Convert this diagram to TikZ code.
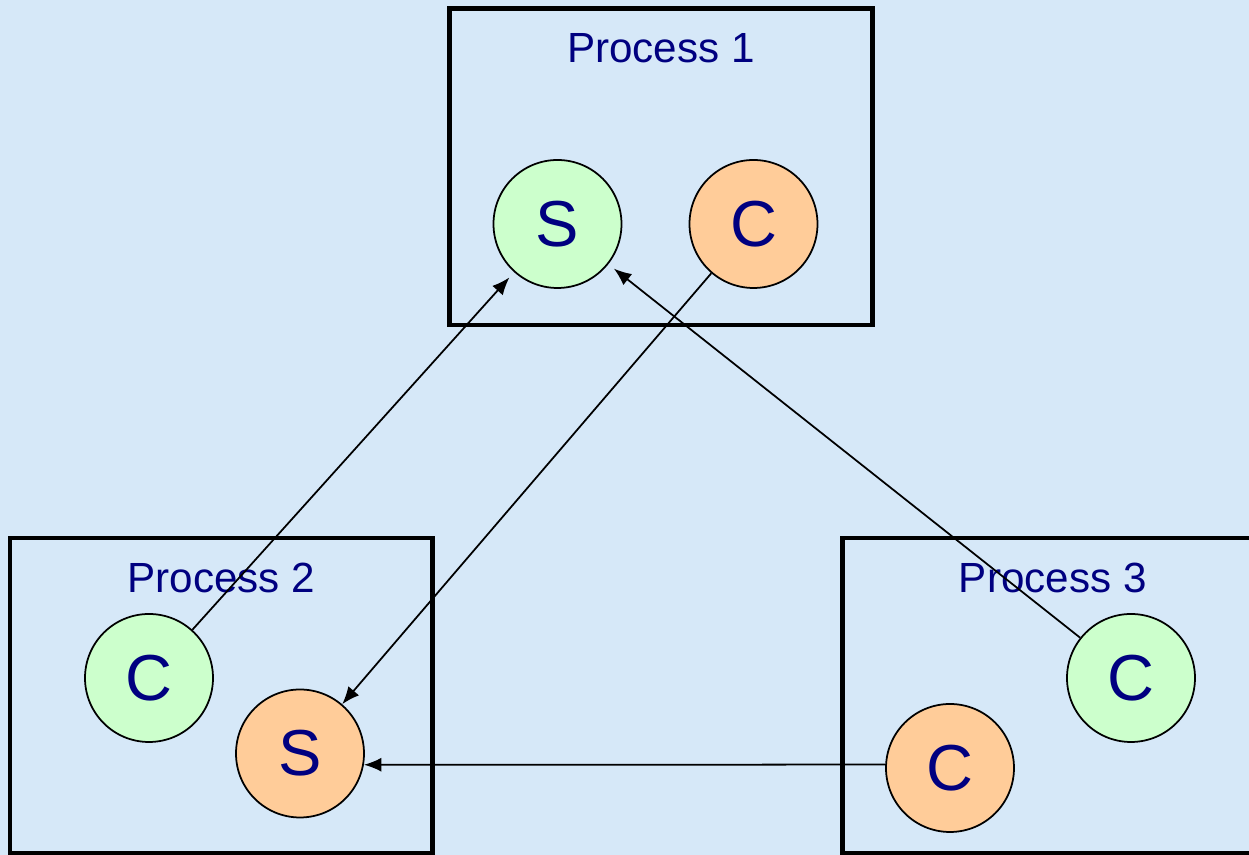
\documentclass[tikz,border=0pt]{standalone}
\usepackage{fontspec}
\setmainfont{Liberation Sans}
\usetikzlibrary{arrows.meta}

\definecolor{bgblue}{RGB}{214,232,248}
\definecolor{srvgreen}{RGB}{204,255,204}
\definecolor{cliorange}{RGB}{255,204,153}
\definecolor{navytext}{RGB}{0,0,128}

\begin{document}
\begin{tikzpicture}
					\tikzstyle{procbox}=[rectangle,draw=black,line width=1.4pt,fill=bgblue]
					\tikzstyle{title}=[text=navytext,font=\fontsize{12}{14}\selectfont,inner sep=0pt]
					\tikzstyle{proc}=[circle,draw=black,line width=0.5pt,minimum size=1.28cm,inner sep=0pt,text=navytext,font=\fontsize{18.5}{20}\selectfont]
					\tikzstyle{srv}=[proc,fill=srvgreen]
					\tikzstyle{cli}=[proc,fill=cliorange]
					\tikzstyle{msg}=[-{Latex[length=5pt,width=4pt]},line width=0.5pt]
					\path[use as bounding box,fill=bgblue] (0,0) rectangle (12.49,8.55);
					\clip (0,0) rectangle (12.49,8.55);
					% the three processes
					\node[procbox,minimum width=4.23cm,minimum height=3.165cm] (p1) at (6.61,6.8825) {};
					\node[procbox,minimum width=4.225cm,minimum height=3.15cm] (p2) at (2.2125,1.595) {};
					\node[procbox,minimum width=4.205cm,minimum height=3.15cm] (p3) at (10.5275,1.595) {};
					\node[title] (t1) at ([yshift=-0.42cm]p1.north) {Process 1};
					\node[title] (t2) at ([yshift=-0.42cm]p2.north) {Process 2};
					\node[title] (t3) at ([yshift=-0.42cm]p3.north) {Process 3};
					% servers and clients
					\node[srv] (s1) at (5.575,6.31) {S};
					\node[cli] (c1) at (7.535,6.31) {C};
					\node[srv] (c2) at (1.49,1.77) {C};
					\node[cli] (s2) at (3.00,1.015) {S};
					\node[srv] (c3) at (11.31,1.77) {C};
					\node[cli] (c4) at (9.50,0.87) {C};
					% connections
					\draw[msg,shorten >=2pt] (c2) -- (s1);
					\draw[msg,shorten >=2pt] (c3) -- (s1);
					\draw[msg] (c1) -- (s2);
					\draw[msg] (c4.177) -- (s2.-10);
\end{tikzpicture}
\end{document}
